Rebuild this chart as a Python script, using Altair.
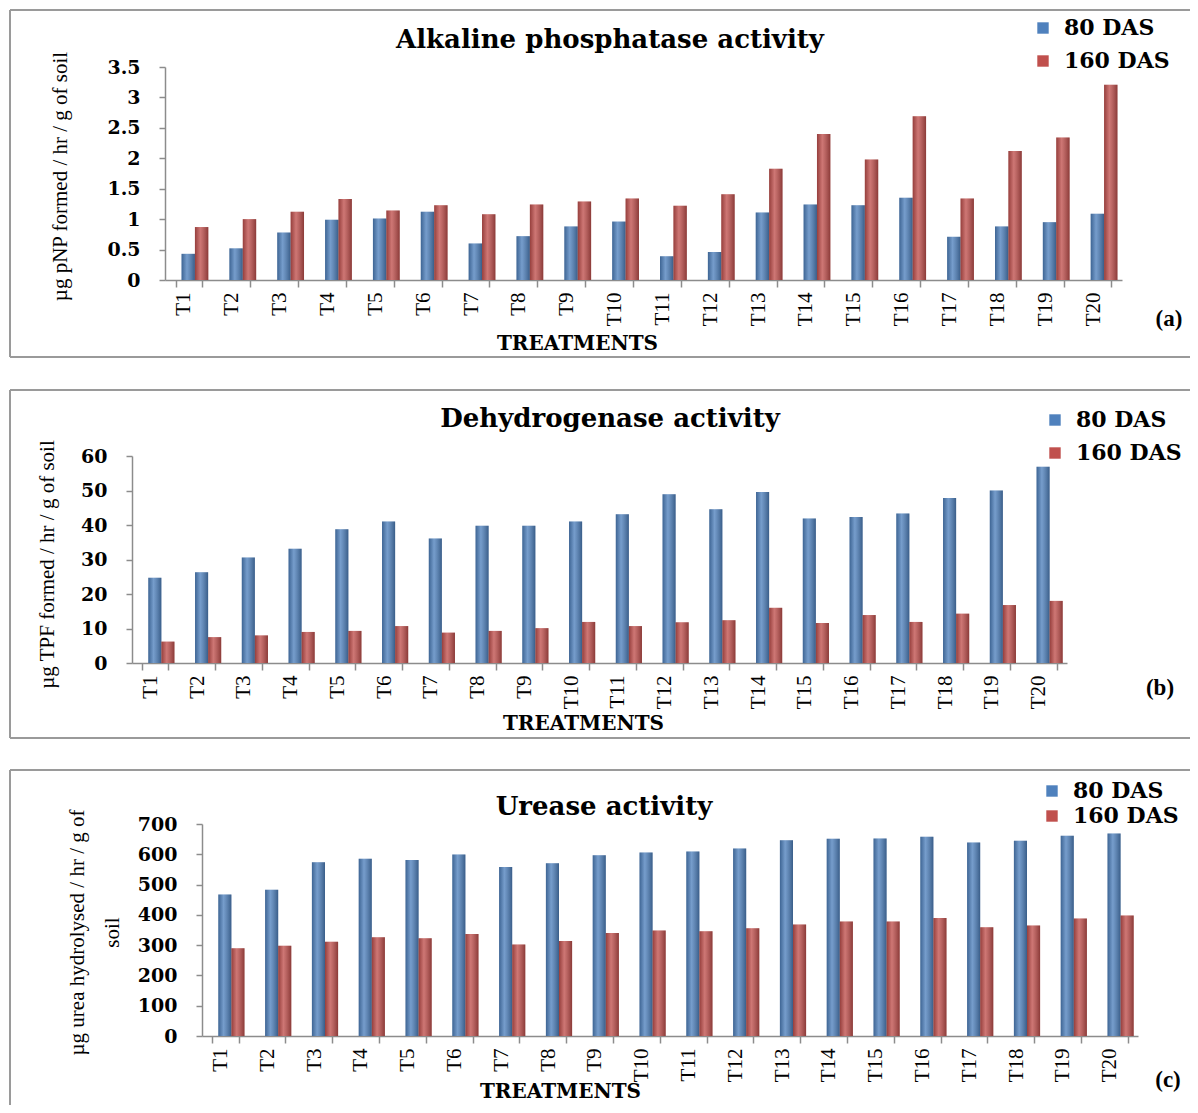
import altair as alt
import pandas as pd

treatments = ["T1", "T2", "T3", "T4", "T5", "T6", "T7", "T8", "T9", "T10",
              "T11", "T12", "T13", "T14", "T15", "T16", "T17", "T18", "T19", "T20"]
series = ["80 DAS", "160 DAS"]
colors = ["#4F81BD", "#C0504D"]

alk_80 = [0.43, 0.52, 0.78, 0.99, 1.01, 1.12, 0.60, 0.72, 0.88, 0.96,
          0.39, 0.46, 1.11, 1.24, 1.23, 1.35, 0.71, 0.88, 0.95, 1.09]
alk_160 = [0.87, 1.00, 1.12, 1.33, 1.14, 1.23, 1.08, 1.24, 1.29, 1.34,
           1.22, 1.41, 1.83, 2.40, 1.98, 2.69, 1.34, 2.12, 2.34, 3.21]

deh_80 = [24.7, 26.3, 30.6, 33.1, 38.8, 41.0, 36.1, 39.8, 39.8, 41.0,
          43.1, 48.9, 44.6, 49.6, 41.9, 42.3, 43.3, 47.8, 50.0, 56.9]
deh_160 = [6.2, 7.5, 8.0, 9.0, 9.3, 10.7, 8.8, 9.3, 10.1, 11.9,
           10.7, 11.8, 12.4, 16.0, 11.6, 13.9, 11.9, 14.3, 16.8, 18.0]

ure_80 = [467, 483, 574, 585, 581, 599, 558, 570, 597, 606,
          609, 619, 646, 651, 652, 658, 639, 645, 661, 669]
ure_160 = [290, 298, 311, 326, 323, 337, 302, 314, 340, 348,
           346, 356, 368, 378, 378, 390, 359, 365, 388, 398]

alk_ticks = [0, 0.5, 1, 1.5, 2, 2.5, 3, 3.5]
deh_ticks = [0, 10, 20, 30, 40, 50, 60]
ure_ticks = [0, 100, 200, 300, 400, 500, 600, 700]

TITLE_FONT = "DejaVu Serif"
BODY_FONT = "Liberation Serif"
GREY = "#8c8c8c"
CW, CH = 1182, 1097   # whole drawing area (page minus 8px margins)
PAD_IN, PAD_OUT = 0.44, 0.22
BAR_SHIFT = 6          # bars sit a little right of the category centre (3-D look)

one = pd.DataFrame({"k": [0]})

shade_grad = alt.Gradient(
    gradient="linear", x1=0, x2=1, y1=0, y2=0,
    stops=[
        alt.GradientStop(offset=0, color="rgba(0,0,0,0.22)"),
        alt.GradientStop(offset=0.4, color="rgba(255,255,255,0.22)"),
        alt.GradientStop(offset=1, color="rgba(0,0,0,0.28)"),
    ],
)


def long_df(v80, v160):
    rows = []
    for t, a, b in zip(treatments, v80, v160):
        rows.append({"treatment": t, "series": series[0], "value": a})
        rows.append({"treatment": t, "series": series[1], "value": b})
    return pd.DataFrame(rows)


def panel(v80, v160, ticks, ytitle, ytitle_x, ytitle_y, ytitle_lh,
          xr, yr, treat_x, treat_y, leg_x, leg_y, leg_rowpad):
    df = long_df(v80, v160)
    n = len(treatments)
    step = (xr[1] - xr[0]) / (n - PAD_IN + 2 * PAD_OUT)
    bw = step * (1 - PAD_IN)
    xenc = alt.X(
        "treatment:N", sort=treatments,
        scale=alt.Scale(range=xr, paddingInner=PAD_IN, paddingOuter=PAD_OUT),
        axis=alt.Axis(
            orient="bottom", offset=-(CH - yr[0]),
            labelAngle=270, labelFont=BODY_FONT, labelFontSize=21, labelColor="black",
            labelAlign="right", labelBaseline="middle", labelPadding=5, labelOffset=-5,
            tickBand="extent", tickSize=7, tickColor=GREY, domainColor=GREY,
            domainWidth=1.5, tickWidth=1.5,
            title="TREATMENTS", titleFont=TITLE_FONT, titleFontWeight="bold",
            titleFontSize=20, titleColor="black", titleX=treat_x, titleY=treat_y,
            titleAlign="center", titleBaseline="middle",
        ),
    )
    yenc = alt.Y(
        "value:Q",
        scale=alt.Scale(domain=[ticks[0], ticks[-1]], range=yr, nice=False, zero=True),
        axis=alt.Axis(
            orient="left", offset=-xr[0],
            values=ticks, labelExpr="'' + datum.value", grid=False,
            labelFont=TITLE_FONT, labelFontWeight="bold", labelFontSize=19,
            labelColor="black", labelPadding=19, tickSize=6, tickColor=GREY,
            domainColor=GREY, domainWidth=1.5, tickWidth=1.5,
            title=ytitle, titleFont=BODY_FONT, titleFontWeight="normal",
            titleFontSize=21, titleColor="black", titleAngle=270,
            titleX=ytitle_x, titleY=ytitle_y, titleAlign="center",
            titleBaseline="middle", titleLineHeight=ytitle_lh,
        ),
    )
    xoff = alt.XOffset("series:N", sort=series,
                       scale=alt.Scale(range=[BAR_SHIFT, BAR_SHIFT + bw]))
    base = alt.Chart(df).encode(x=xenc, xOffset=xoff, y=yenc)
    bars = base.mark_bar().encode(
        color=alt.Color(
            "series:N", sort=series,
            scale=alt.Scale(domain=series, range=colors),
            legend=alt.Legend(
                orient="none", legendX=leg_x, legendY=leg_y, title=None,
                symbolType="square", symbolSize=130, symbolStrokeWidth=0,
                labelFont=TITLE_FONT, labelFontWeight="bold", labelFontSize=22,
                labelColor="black", labelOffset=10, rowPadding=leg_rowpad,
                padding=0,
            ),
        )
    )
    shade = base.mark_bar(color=shade_grad)
    return alt.layer(bars, shade)


def decorations(title, title_xy, tag, tag_xy, border_top, border_bottom):
    rule_style = dict(color="#9a9a9a", strokeWidth=2)
    out = [
        alt.Chart(one).mark_rule(**rule_style).encode(
            x=alt.value(2), x2=alt.value(CW + 10), y=alt.value(border_top)),
        alt.Chart(one).mark_rule(**rule_style).encode(
            x=alt.value(2), y=alt.value(border_top),
            y2=alt.value(border_bottom if border_bottom is not None else CH + 10)),
    ]
    if border_bottom is not None:
        out.append(alt.Chart(one).mark_rule(**rule_style).encode(
            x=alt.value(2), x2=alt.value(CW + 10), y=alt.value(border_bottom)))
    out.append(alt.Chart(one).mark_text(
        font=TITLE_FONT, fontWeight="bold", fontSize=26, align="center",
        baseline="middle", color="black").encode(
        x=alt.value(title_xy[0]), y=alt.value(title_xy[1]), text=alt.value(title)))
    out.append(alt.Chart(one).mark_text(
        font=BODY_FONT, fontWeight="bold", fontSize=23, align="center",
        baseline="middle", color="black").encode(
        x=alt.value(tag_xy[0]), y=alt.value(tag_xy[1]), text=alt.value(tag)))
    return out


# coordinates below are in the drawing area (page pixel minus the 8px margin)
pa = panel(alk_80, alk_160, alk_ticks, "µg pNP formed / hr / g of soil", -105, 168, 21,
           xr=[157, 1114], yr=[272, 59], treat_x=569, treat_y=63,
           leg_x=1024, leg_y=9, leg_rowpad=11)
pb = panel(deh_80, deh_160, deh_ticks, "µg TPF formed / hr / g of soil", -85, 556, 21,
           xr=[124, 1059], yr=[655, 448], treat_x=575, treat_y=60,
           leg_x=1036, leg_y=401, leg_rowpad=11)
pc = panel(ure_80, ure_160, ure_ticks, ["µg urea hydrolysed / hr / g of", "soil"], -125, 924, 35,
           xr=[194, 1130], yr=[1028, 816], treat_x=552, treat_y=55,
           leg_x=1033, leg_y=772, leg_rowpad=3)

deco = []
deco += decorations("Alkaline phosphatase activity", (602, 32), "(a)", (1161, 311), 2, 349)
deco += decorations("Dehydrogenase activity", (602, 411), "(b)", (1152, 680), 382, 730)
deco += decorations("Urease activity", (596, 799), "(c)", (1160, 1072), 762, None)

chart = alt.layer(*deco, pa, pb, pc).resolve_scale(
    x="independent", y="independent", color="independent", xOffset="independent"
).properties(
    width=CW, height=CH,
    autosize=alt.AutoSizeParams(type="none"),
    padding=0,
    background="white",
).configure_view(stroke=None)

chart.save("out.html", embed_options={"renderer": "svg", "actions": False})
